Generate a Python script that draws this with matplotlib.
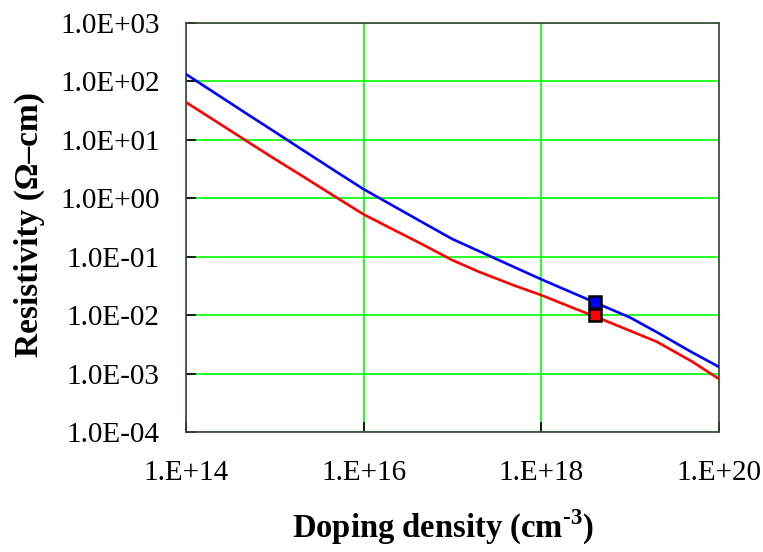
import numpy as np
import matplotlib
matplotlib.use("Agg")
import matplotlib.pyplot as plt
from matplotlib.ticker import FixedLocator, FuncFormatter, NullLocator

plt.rcParams['font.family'] = ['Liberation Serif', 'DejaVu Serif']
plt.rcParams['mathtext.fontset'] = 'custom'
plt.rcParams['mathtext.rm'] = 'Liberation Serif'
plt.rcParams['mathtext.bf'] = 'Liberation Serif:bold'

# Doping density (cm^-3) and resistivity (ohm-cm)
doping = [1e14, 2e14, 5e14, 1e15, 2e15, 5e15, 1e16, 2e16, 5e16, 1e17,
          2e17, 5e17, 1e18, 2e18, 5e18, 1e19, 2e19, 5e19, 1e20]
rho_blue = [133, 67, 27, 13.7, 6.9, 2.8, 1.43, 0.79, 0.36, 0.20,
            0.124, 0.066, 0.041, 0.026, 0.0143, 0.0091, 0.0051, 0.0023, 0.0013]
rho_red = [44, 22.5, 9.2, 4.7, 2.45, 1.02, 0.53, 0.309, 0.152, 0.087,
           0.055, 0.032, 0.022, 0.0144, 0.0083, 0.0054, 0.0035, 0.0016, 0.00081]

# highlighted points
mark_x = [4e18, 4e18]
mark_y = [1.65e-2, 1.0e-2]
mark_colors = ['#0000ff', '#ff0000']

xticks = [1e14, 1e16, 1e18, 1e20]
yticks = [1e-4, 1e-3, 1e-2, 1e-1, 1e0, 1e1, 1e2, 1e3]

fig = plt.figure(figsize=(7.63, 5.52), dpi=100)
ax = fig.add_axes([0.2438, 0.2174, 0.6985, 0.7409])

ax.plot(doping, rho_blue, color='#0000ff', lw=1.9, zorder=3)
ax.plot(doping, rho_red, color='#ff0000', lw=1.9, zorder=3)
for x, y, c in zip(mark_x, mark_y, mark_colors):
    ax.plot([x], [y], marker='s', ms=8.5, mfc=c, mec='black', mew=1.8,
            ls='none', zorder=4)

ax.set_xscale('log')
ax.set_yscale('log')
ax.set_xlim(1e14, 1e20)
ax.set_ylim(1e-4, 1e3)

ax.xaxis.set_major_locator(FixedLocator(xticks))
ax.yaxis.set_major_locator(FixedLocator(yticks))
ax.xaxis.set_minor_locator(NullLocator())
ax.yaxis.set_minor_locator(NullLocator())
ax.xaxis.set_major_formatter(FuncFormatter(lambda v, p: "1.E+%02d" % round(np.log10(v))))
ax.yaxis.set_major_formatter(FuncFormatter(
    lambda v, p: "1.0E%s%02d" % ('+' if v >= 1 else '-', abs(round(np.log10(v))))))

ax.grid(True, color='#00ff00', lw=1.2, zorder=0)
ax.set_axisbelow(True)
ax.tick_params(direction='in', length=7, width=1.2, colors='black',
               labelsize=21, top=False, right=False)
ax.tick_params(axis='x', pad=20)
ax.tick_params(axis='y', pad=19)
for s in ax.spines.values():
    s.set_color('#404040')
    s.set_linewidth(1.2)

fig.text(0.581, 0.045, 'Doping density (cm$^{\\mathbf{\u2010}\\mathbf{3}}$)', ha='center',
         va='center', fontsize=23.5, fontweight='bold')
fig.text(0.039, 0.594, 'Resistivity (\u03a9\u2013cm)', ha='center', va='center',
         rotation=90, fontsize=24, fontweight='bold')

fig.savefig('out.png', dpi=100)
